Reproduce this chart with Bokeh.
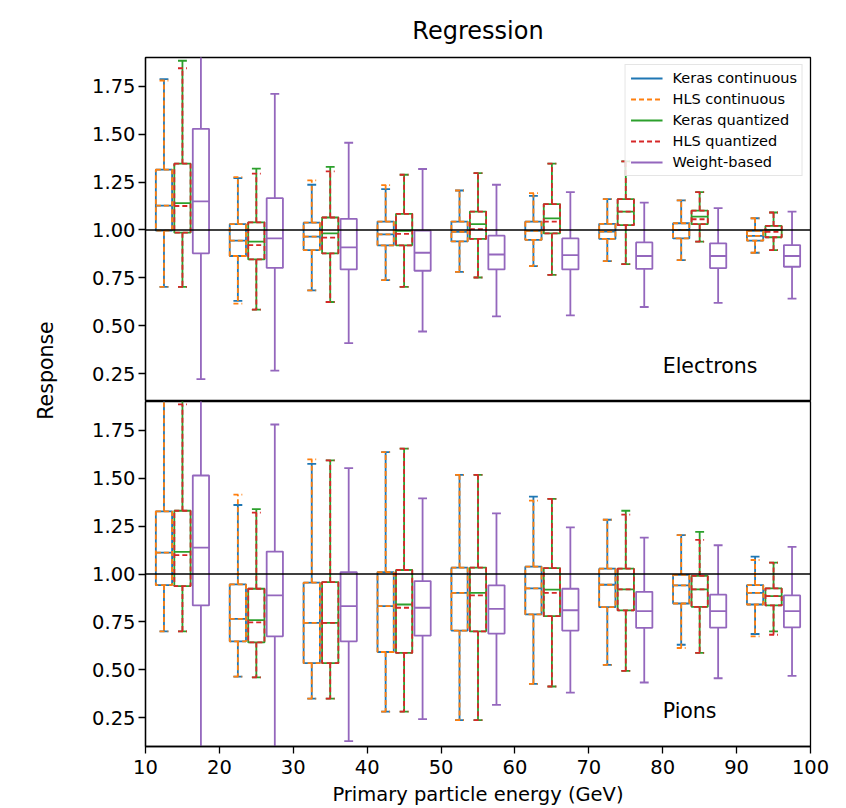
import numpy as np
from bokeh.plotting import figure
from bokeh.models import (ColumnDataSource, Range1d, FixedTicker, Span, Label,
                          Legend, LegendItem, NumeralTickFormatter)
from bokeh.layouts import row, column
from bokeh.embed import file_html
from bokeh.resources import INLINE

# ---------------- data ----------------
BIN_CENTERS = [15, 25, 35, 45, 55, 65, 75, 85, 95]
X_TICKS = [10, 20, 30, 40, 50, 60, 70, 80, 90, 100]
Y_TICKS = [0.25, 0.50, 0.75, 1.00, 1.25, 1.50, 1.75]
SERIES = ["Keras continuous", "HLS continuous", "Keras quantized", "HLS quantized", "Weight-based"]

# each row: [whisker low, Q1, median, Q3, whisker high] per energy bin
# Electrons
E_KC = [[0.703, 0.996, 1.127, 1.315, 1.787], [0.630, 0.864, 0.944, 1.030, 1.270],
        [0.685, 0.895, 0.965, 1.038, 1.236], [0.738, 0.920, 0.977, 1.044, 1.213],
        [0.781, 0.940, 0.990, 1.044, 1.206], [0.811, 0.948, 0.995, 1.044, 1.178],
        [0.837, 0.953, 0.991, 1.032, 1.161], [0.843, 0.956, 1.000, 1.035, 1.154],
        [0.881, 0.944, 0.969, 0.995, 1.061]]
E_HC = [[0.703, 0.996, 1.127, 1.315, 1.780], [0.616, 0.864, 0.944, 1.030, 1.276],
        [0.685, 0.895, 0.965, 1.038, 1.259], [0.738, 0.920, 0.977, 1.044, 1.234],
        [0.781, 0.940, 0.990, 1.044, 1.206], [0.811, 0.948, 0.995, 1.044, 1.192],
        [0.837, 0.953, 0.991, 1.032, 1.161], [0.843, 0.956, 1.000, 1.035, 1.154],
        [0.881, 0.944, 0.969, 0.995, 1.061]]
E_KQ = [[0.703, 0.986, 1.140, 1.346, 1.883], [0.584, 0.846, 0.939, 1.040, 1.320],
        [0.624, 0.878, 0.982, 1.065, 1.329], [0.703, 0.920, 0.995, 1.084, 1.288],
        [0.752, 0.953, 1.030, 1.096, 1.297], [0.766, 0.982, 1.060, 1.135, 1.346],
        [0.822, 1.025, 1.096, 1.161, 1.358], [0.939, 1.030, 1.070, 1.101, 1.197],
        [0.895, 0.962, 1.000, 1.021, 1.091]]
E_HQ = [[0.703, 0.986, 1.125, 1.346, 1.844], [0.584, 0.846, 0.921, 1.040, 1.294],
        [0.624, 0.878, 0.960, 1.065, 1.306], [0.703, 0.920, 0.980, 1.084, 1.288],
        [0.752, 0.953, 1.004, 1.096, 1.297], [0.766, 0.982, 1.044, 1.135, 1.346],
        [0.822, 1.025, 1.096, 1.161, 1.358], [0.939, 1.030, 1.056, 1.101, 1.197],
        [0.895, 0.962, 0.990, 1.021, 1.091]]
E_WB = [[0.222, 0.878, 1.149, 1.528, 2.300], [0.266, 0.802, 0.956, 1.166, 1.710],
        [0.409, 0.794, 0.909, 1.058, 1.455], [0.470, 0.787, 0.881, 0.996, 1.318],
        [0.549, 0.794, 0.872, 0.970, 1.236], [0.554, 0.794, 0.869, 0.956, 1.197],
        [0.598, 0.797, 0.864, 0.935, 1.143], [0.619, 0.801, 0.864, 0.930, 1.114],
        [0.642, 0.808, 0.864, 0.921, 1.096]]
# Pions
P_KC = [[0.701, 0.942, 1.112, 1.327, 2.050], [0.465, 0.649, 0.766, 0.946, 1.360],
        [0.350, 0.535, 0.745, 0.955, 1.575], [0.282, 0.593, 0.832, 1.010, 1.636],
        [0.238, 0.705, 0.902, 1.033, 1.517], [0.427, 0.789, 0.925, 1.038, 1.404],
        [0.526, 0.827, 0.944, 1.028, 1.283], [0.631, 0.846, 0.941, 0.995, 1.203],
        [0.687, 0.841, 0.902, 0.942, 1.091]]
P_HC = [[0.701, 0.942, 1.112, 1.327, 2.050], [0.465, 0.649, 0.766, 0.946, 1.414],
        [0.350, 0.535, 0.745, 0.955, 1.598], [0.282, 0.593, 0.832, 1.010, 1.636],
        [0.238, 0.705, 0.902, 1.033, 1.517], [0.427, 0.789, 0.925, 1.038, 1.383],
        [0.526, 0.827, 0.944, 1.028, 1.283], [0.614, 0.846, 0.941, 0.995, 1.203],
        [0.675, 0.841, 0.902, 0.942, 1.073]]
P_KQ = [[0.701, 0.937, 1.115, 1.330, 1.950], [0.461, 0.643, 0.759, 0.923, 1.339],
        [0.350, 0.535, 0.745, 0.958, 1.593], [0.282, 0.588, 0.841, 1.021, 1.654],
        [0.238, 0.701, 0.902, 1.033, 1.517], [0.413, 0.780, 0.918, 1.031, 1.392],
        [0.495, 0.810, 0.920, 1.028, 1.330], [0.588, 0.829, 0.920, 0.990, 1.220],
        [0.701, 0.836, 0.885, 0.925, 1.059]]
P_HQ = [[0.701, 0.937, 1.098, 1.330, 1.885], [0.461, 0.643, 0.748, 0.923, 1.320],
        [0.350, 0.535, 0.745, 0.958, 1.593], [0.282, 0.588, 0.824, 1.021, 1.654],
        [0.238, 0.701, 0.888, 1.033, 1.517], [0.413, 0.780, 0.902, 1.031, 1.392],
        [0.495, 0.810, 0.920, 1.028, 1.310], [0.588, 0.829, 0.920, 0.990, 1.178],
        [0.683, 0.836, 0.885, 0.925, 1.059]]
P_WB = [[0.000, 0.836, 1.138, 1.514, 2.300], [0.050, 0.675, 0.888, 1.117, 1.780],
        [0.128, 0.649, 0.832, 1.010, 1.552], [0.243, 0.678, 0.824, 0.963, 1.395],
        [0.317, 0.689, 0.818, 0.941, 1.316], [0.381, 0.705, 0.811, 0.923, 1.243],
        [0.434, 0.719, 0.806, 0.907, 1.190], [0.456, 0.720, 0.806, 0.892, 1.150],
        [0.469, 0.722, 0.806, 0.888, 1.142]]

# ---------------- style ----------------
FONT = "DejaVu Sans"
COLORS = ["#1f77b4", "#ff7f0e", "#2ca02c", "#d62728", "#9467bd"]
DASHES = ["solid", "5 3", "solid", "5 3", "solid"]
OFFSETS = [-2.5, -2.5, 0.0, 0.0, 2.5]
BOX_W = 2.2
CAP_W = 1.2
LW = 1.8


def draw_box(p, stats, offset, color, dash):
    s = np.array(stats, dtype=float)
    lo, q1, med, q3, hi = s.T
    xs = np.array(BIN_CENTERS, dtype=float) + offset
    src = ColumnDataSource(dict(x=xs, left=xs - BOX_W / 2, right=xs + BOX_W / 2,
                                capl=xs - CAP_W / 2, capr=xs + CAP_W / 2,
                                lo=lo, q1=q1, med=med, q3=q3, hi=hi))
    kw = dict(line_color=color, line_width=LW, line_dash=dash, source=src)
    p.quad(left="left", right="right", bottom="q1", top="q3", fill_color=None, **kw)
    p.segment(x0="left", x1="right", y0="med", y1="med", **kw)
    wr = p.segment(x0="x", x1="x", y0="q3", y1="hi", **kw)
    p.segment(x0="x", x1="x", y0="q1", y1="lo", **kw)
    p.segment(x0="capl", x1="capr", y0="hi", y1="hi", **kw)
    p.segment(x0="capl", x1="capr", y0="lo", y1="lo", **kw)
    return wr


def style_panel(p, yr):
    p.y_range = yr
    p.grid.visible = False
    p.outline_line_color = "black"
    p.outline_line_width = 1.3
    p.background_fill_color = "white"
    p.border_fill_color = "white"
    p.yaxis.ticker = FixedTicker(ticks=Y_TICKS)
    p.yaxis.formatter = NumeralTickFormatter(format="0.00")
    p.yaxis.major_tick_out = 7
    p.yaxis.major_tick_in = 0
    p.yaxis.minor_tick_line_color = None
    p.yaxis.major_label_standoff = 3
    p.yaxis.major_label_text_font = FONT
    p.yaxis.major_label_text_font_size = "19.5px"
    p.yaxis.major_label_text_color = "black"
    p.yaxis.axis_line_color = "black"
    p.yaxis.axis_line_width = 1.3
    p.yaxis.major_tick_line_color = "black"
    p.yaxis.major_tick_line_width = 1.3
    p.add_layout(Span(location=1.0, dimension="width", line_color="black", line_width=1.5))


x_range = Range1d(10, 100)

# ---------- top panel (electrons) ----------
p1 = figure(width=762, height=401, x_range=x_range, output_backend="svg",
            toolbar_location=None, min_border_left=77, min_border_right=20,
            min_border_top=57, min_border_bottom=1, x_axis_location=None)
style_panel(p1, Range1d(0.11, 1.9))
p1.title.text = "Regression"
p1.title.align = "center"
p1.title.text_font = FONT
p1.title.text_font_size = "24px"
p1.title.text_font_style = "normal"
p1.title.text_color = "black"
p1.title.standoff = 26

renderers = []
for stats, off, col, dash in zip([E_KC, E_HC, E_KQ, E_HQ, E_WB], OFFSETS, COLORS, DASHES):
    renderers.append(draw_box(p1, stats, off, col, dash))

legend = Legend(items=[LegendItem(label=lab, renderers=[r]) for lab, r in zip(SERIES, renderers)],
                location="top_right", margin=7, padding=5, spacing=5,
                glyph_width=32, glyph_height=14, label_height=14, label_standoff=10,
                label_text_font=FONT, label_text_font_size="14.5px", label_text_color="black",
                background_fill_color="white", background_fill_alpha=0.85,
                border_line_color="#cccccc", border_line_width=1.2)
p1.add_layout(legend)
p1.add_layout(Label(x=80, y=0.29, text="Electrons", text_font=FONT, text_font_size="20.5px",
                    text_color="black", text_align="left", text_baseline="middle"))

# ---------- bottom panel (pions) ----------
p2 = figure(width=762, height=407, x_range=x_range, output_backend="svg",
            toolbar_location=None, min_border_left=77, min_border_right=20,
            min_border_top=0, min_border_bottom=62)
style_panel(p2, Range1d(0.1, 1.9))
p2.xaxis.ticker = FixedTicker(ticks=X_TICKS)
p2.xaxis.major_tick_out = 7
p2.xaxis.major_tick_in = 0
p2.xaxis.minor_tick_line_color = None
p2.xaxis.major_label_standoff = 6
p2.xaxis.major_label_text_font = FONT
p2.xaxis.major_label_text_font_size = "19.5px"
p2.xaxis.major_label_text_color = "black"
p2.xaxis.axis_line_color = "black"
p2.xaxis.axis_line_width = 1.3
p2.xaxis.major_tick_line_color = "black"
p2.xaxis.major_tick_line_width = 1.3
p2.xaxis.axis_label = "Primary particle energy (GeV)"
p2.xaxis.axis_label_text_font = FONT
p2.xaxis.axis_label_text_font_size = "19.5px"
p2.xaxis.axis_label_text_font_style = "normal"
p2.xaxis.axis_label_text_color = "black"
p2.xaxis.axis_label_standoff = 6

for stats, off, col, dash in zip([P_KC, P_HC, P_KQ, P_HQ, P_WB], OFFSETS, COLORS, DASHES):
    draw_box(p2, stats, off, col, dash)
p2.add_layout(Label(x=80, y=0.287, text="Pions", text_font=FONT, text_font_size="20.5px",
                    text_color="black", text_align="left", text_baseline="middle"))

# ---------- shared y-axis label ----------
lab = figure(width=68, height=808, x_range=Range1d(0, 68), y_range=Range1d(0, 808),
             output_backend="svg", toolbar_location=None, min_border=0,
             x_axis_location=None, y_axis_location=None)
lab.grid.visible = False
lab.outline_line_color = None
lab.add_layout(Label(x=45, y=438, text="Response", angle=np.pi / 2, text_font=FONT,
                     text_font_size="20.5px", text_color="black",
                     text_align="center", text_baseline="middle"))

layout = row(lab, column(p1, p2))
open("out.html", "w").write(file_html(layout, INLINE))
